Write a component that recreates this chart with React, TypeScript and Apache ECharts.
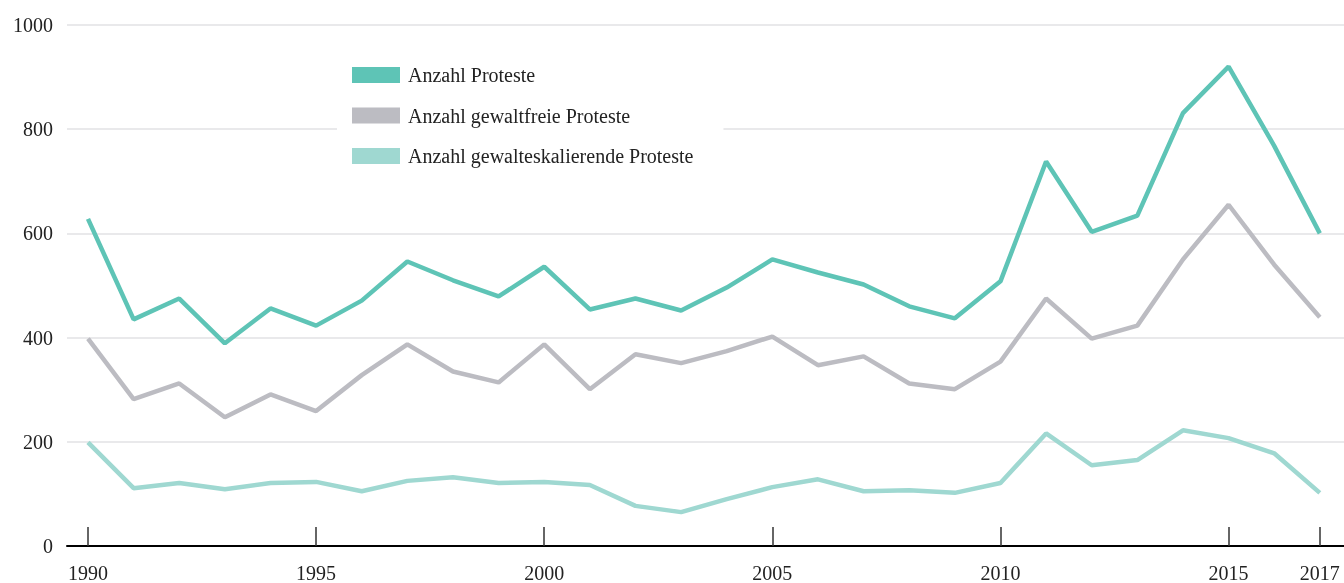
import React, { useEffect, useRef } from "react";
import * as echarts from "echarts";

const years = [1990,1991,1992,1993,1994,1995,1996,1997,1998,1999,2000,2001,2002,2003,2004,2005,2006,2007,2008,2009,2010,2011,2012,2013,2014,2015,2016,2017];
const protests = [628,435,475,389,456,423,471,546,510,479,536,454,475,452,496,550,525,502,460,437,508,738,603,634,831,920,768,600];
const nonviolent = [398,282,312,247,291,259,328,387,335,314,387,301,368,351,374,402,347,364,312,301,354,475,398,423,550,655,540,439];
const escalating = [199,111,121,109,121,123,105,125,132,121,123,117,77,65,90,113,128,105,107,102,121,216,155,165,222,207,178,102];
const xTicks = [1990, 1995, 2000, 2005, 2010, 2015, 2017];
const seriesNames = ["Anzahl Proteste", "Anzahl gewaltfreie Proteste", "Anzahl gewalteskalierende Proteste"];
const colors = ["#5ec4b6", "#bcbcc2", "#9fd8d1"];

const FONT = "Liberation Serif";

export default function App() {
  const ref = useRef<HTMLDivElement>(null);
  useEffect(() => {
    if (!ref.current) return;
    const chart = echarts.init(ref.current, undefined, { renderer: "svg" });
    const datasets = [protests, nonviolent, escalating];
    chart.setOption({
      animation: false,
      color: colors,
      grid: { left: 67, right: 0, top: 25, bottom: 34, containLabel: false },
      legend: {
        orient: "vertical",
        left: 337,
        top: 50,
        padding: [15, 30, 15, 15],
        backgroundColor: "#ffffff",
        itemWidth: 48,
        itemHeight: 16,
        itemGap: 20.5,
        icon: "rect",
        data: seriesNames,
        textStyle: { fontFamily: FONT, fontSize: 20, color: "#222", padding: [0, 0, 0, 3] },
      },
      xAxis: {
        type: "value",
        min: 1989.54,
        max: 2017.53,
        splitLine: { show: false },
        axisLine: { show: true, lineStyle: { color: "#000", width: 2 } },
        axisTick: {
          show: true,
          inside: true,
          length: 19,
          customValues: xTicks,
          lineStyle: { color: "#333", width: 1.5 },
        },
        axisLabel: {
          customValues: xTicks,
          margin: 17,
          fontFamily: FONT,
          fontSize: 20,
          color: "#222",
          formatter: (v: number) => String(Math.round(v)),
        },
      },
      yAxis: {
        type: "value",
        min: 0,
        max: 1000,
        interval: 200,
        axisLine: { show: false },
        axisTick: { show: false },
        splitLine: { show: true, lineStyle: { color: "#e2e2e4", width: 1.5 } },
        axisLabel: {
          margin: 14,
          fontFamily: FONT,
          fontSize: 20,
          color: "#222",
          formatter: (v: number) => String(v),
        },
      },
      series: seriesNames.map((name, i) => ({
        name,
        type: "line",
        showSymbol: false,
        symbol: "none",
        data: years.map((y, j) => [y, datasets[i][j]]),
        lineStyle: { width: 4.5, color: colors[i] },
        itemStyle: { color: colors[i] },
        z: 3 - i,
      })),
    });
    return () => chart.dispose();
  }, []);
  return <div ref={ref} style={{ position: "fixed", left: 0, top: 0, width: 1344, height: 583 }} />;
}
